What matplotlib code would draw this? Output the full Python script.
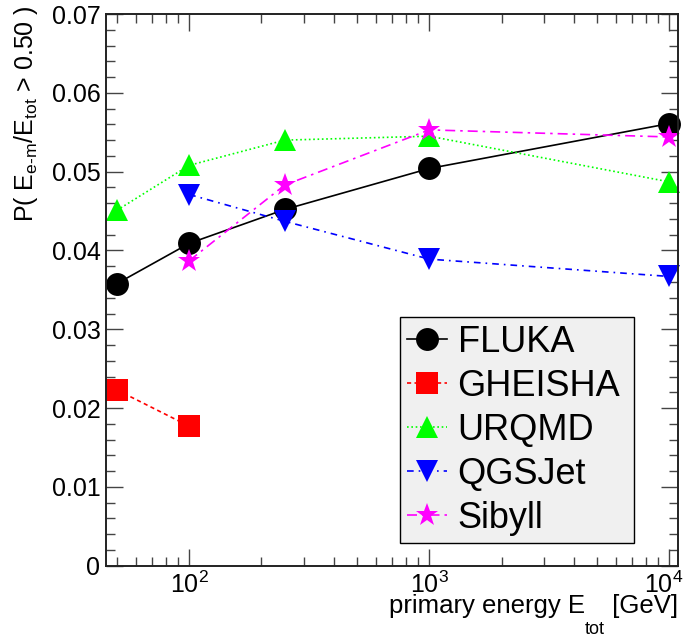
import matplotlib
matplotlib.use("Agg")
import matplotlib.pyplot as plt
import matplotlib.transforms as mtransforms
from matplotlib.ticker import LogLocator, NullFormatter, MultipleLocator, FuncFormatter
from matplotlib.offsetbox import TextArea, HPacker, VPacker, DrawingArea, AnchoredOffsetbox

plt.rcParams['font.family'] = ['Liberation Sans', 'DejaVu Sans']
plt.rcParams['mathtext.fontset'] = 'custom'
plt.rcParams['mathtext.rm'] = 'Liberation Sans'
plt.rcParams['mathtext.it'] = 'Liberation Sans:italic'
plt.rcParams['mathtext.bf'] = 'Liberation Sans:bold'

# energies [GeV]
energy = [50, 100, 250, 1000, 10000]
energyGheisha = [50, 100]
energyHigh = [100, 250, 1000, 10000]

fluka = [0.0358, 0.0409, 0.0452, 0.0504, 0.0561]
gheisha = [0.0223, 0.0177]
urqmd = [0.0451, 0.0508, 0.0540, 0.0545, 0.0487]
qgsjet = [0.0471, 0.0437, 0.0389, 0.0367]
sibyll = [0.0387, 0.0483, 0.0553, 0.0544]

xTicks = [100, 1000, 10000]
xTickLabels = [r"$\mathregular{10^{2}}$", r"$\mathregular{10^{3}}$", r"$\mathregular{10^{4}}$"]

f, ax = plt.subplots(figsize=(6.86, 6.37), dpi=100)
f.subplots_adjust(left=0.1545, right=0.9879, bottom=0.1119, top=0.978)

lw = 1.2
ax.plot(energy, fluka, color="black", lw=lw, ls="-", marker="o", ms=16.5, mew=0, label="FLUKA", clip_on=False)
ax.plot(energyGheisha, gheisha, color="red", lw=lw, ls=(0, (2.5, 2)), marker="s", ms=16.5, mew=0, label="GHEISHA", clip_on=False)
ax.plot(energy, urqmd, color="#00ff00", lw=lw, ls=(0, (1, 1.6)), marker="^", ms=16, mew=0, label="URQMD", clip_on=False)
ax.plot(energyHigh, qgsjet, color="blue", lw=lw, ls=(0, (4, 3, 1, 3)), marker="v", ms=16, mew=0, label="QGSJet", clip_on=False)
ax.plot(energyHigh, sibyll, color="magenta", lw=lw, ls=(0, (6, 3, 1.5, 3)), marker="*", ms=17, mew=0, label="Sibyll", clip_on=False)

ax.set_xscale("log")
ax.set_xlim(45, 10840)
ax.set_ylim(0, 0.07)

ax.set_xticks(xTicks, xTickLabels)
ax.xaxis.set_minor_locator(LogLocator(base=10, subs=range(2, 10)))
ax.xaxis.set_minor_formatter(NullFormatter())
ax.yaxis.set_major_locator(MultipleLocator(0.01))
ax.yaxis.set_minor_locator(MultipleLocator(0.002))
ax.yaxis.set_major_formatter(FuncFormatter(lambda v, p: "0" if abs(v) < 1e-9 else "%.2f" % v))

ax.tick_params(which="both", direction="in", top=True, right=True, colors="#444444", labelcolor="black", labelsize=18, width=1)
ax.tick_params(which="major", length=12)
ax.tick_params(which="minor", length=6.3)
ax.tick_params(axis="y", pad=4)
ax.tick_params(axis="x", pad=4)
for s in ax.spines.values():
    s.set_linewidth(1.4)
    s.set_color("#222222")

# keep 10^4 inside the picture
lastLbl = ax.get_xticklabels()[-1]
lastLbl.set_transform(lastLbl.get_transform() + mtransforms.ScaledTranslation(-4 / 72, 0, f.dpi_scale_trans))

# x title, ROOT style with deep subscript
mainTxt = TextArea("primary energy E", textprops=dict(fontsize=18.5))
subTxt = TextArea("tot", textprops=dict(fontsize=13))
subBox = VPacker(children=[DrawingArea(1, 19), subTxt], align="left", pad=0, sep=0)
endTxt = TextArea(" [GeV]", textprops=dict(fontsize=18.5))
xTitle = HPacker(children=[mainTxt, subBox, endTxt], align="top", pad=0, sep=0)
anch = AnchoredOffsetbox(loc="upper right", child=xTitle, pad=0, borderpad=0, frameon=False,
                         bbox_to_anchor=(1.001, -0.052), bbox_transform=ax.transAxes)
ax.add_artist(anch)

ax.set_ylabel(r"P( E$_{\mathregular{e\text{-}m}}$/E$_{\mathregular{tot}}$ > 0.50 )", fontsize=18, loc="top")
ax.yaxis.set_label_coords(-0.116, 1.016)

leg = ax.legend(loc="upper left", bbox_to_anchor=(0.514, 0.034, 0.41, 0.416), mode="expand",
                borderaxespad=0, fontsize=26, fancybox=False, framealpha=1,
                facecolor="#f0f0f0", edgecolor="black", handlelength=1.1, handletextpad=0.3,
                labelspacing=0.25, borderpad=0.2)
leg.get_frame().set_linewidth(1)

plt.savefig("out.png", dpi=100)
